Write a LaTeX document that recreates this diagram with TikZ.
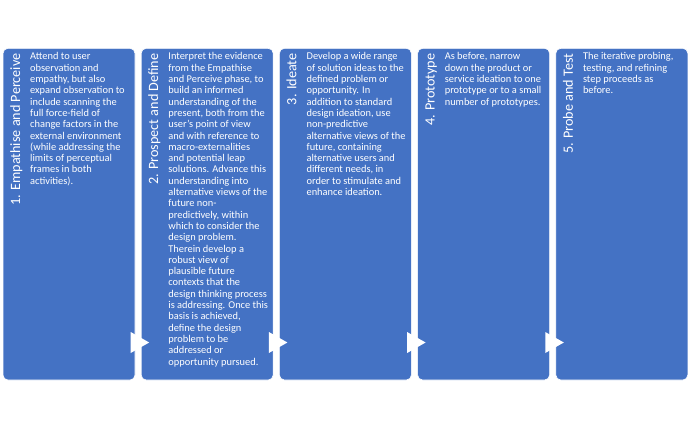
\documentclass[tikz,border=0pt]{standalone}
\usepackage{fontspec}
\setmainfont{Carlito}
\definecolor{boxblue}{HTML}{4472C4}
\begin{document}
\begin{tikzpicture}[x=1pt,y=-1pt,
  stagebox/.style={fill=boxblue,draw=white,line width=0.6pt,rounded corners=5pt},
  stagelabel/.style={rotate=90,anchor=base east,inner sep=0pt,text=white,font=\fontsize{14.2}{16}\selectfont},
  stagetext/.style={anchor=north west,inner sep=0pt,text=white,align=left,font=\fontsize{10.4}{11.3}\selectfont},
  gaparrow/.style={fill=white,draw=none}]
\useasboundingbox (0,0) rectangle (690,429);
\foreach \i/\xl in {1/3,2/141.2,3/279.4,4/417.6,5/555.8}{
  \path[stagebox] (\xl,48.3) rectangle ++(132,331.7);
  \coordinate (b\i) at (\xl,48.3);
}
\node[stagelabel] (l1) at ([shift={(17,5)}]b1) {1. Empathise and Perceive};
\node[stagelabel] (l2) at ([shift={(17,5)}]b2) {2. Prospect and Define};
\node[stagelabel] (l3) at ([shift={(17,5)}]b3) {3. Ideate};
\node[stagelabel] (l4) at ([shift={(17,5)}]b4) {4. Prototype};
\node[stagelabel] (l5) at ([shift={(17,5)}]b5) {5. Probe and Test};
\node[stagetext] (t1) at ([shift={(27,4.2)}]b1) {Attend to user\\observation and\\empathy, but also\\expand observation to\\include scanning the\\full force-field of\\change factors in the\\external environment\\(while addressing the\\limits of perceptual\\frames in both\\activities).};
\node[stagetext] (t2) at ([shift={(27,4.2)}]b2) {Interpret the evidence\\from the Empathise\\and Perceive phase, to\\build an informed\\understanding of the\\present, both from the\\user’s point of view\\and with reference to\\macro-externalities\\and potential leap\\solutions. Advance this\\understanding into\\alternative views of the\\future non-\\predictively, within\\which to consider the\\design problem.\\Therein develop a\\robust view of\\plausible future\\contexts that the\\design thinking process\\is addressing. Once this\\basis is achieved,\\define the design\\problem to be\\addressed or\\opportunity pursued.};
\node[stagetext] (t3) at ([shift={(27,4.2)}]b3) {Develop a wide range\\of solution ideas to the\\defined problem or\\opportunity. In\\addition to standard\\design ideation, use\\non-predictive\\alternative views of the\\future, containing\\alternative users and\\different needs, in\\order to stimulate and\\enhance ideation.};
\node[stagetext] (t4) at ([shift={(27,4.2)}]b4) {As before, narrow\\down the product or\\service ideation to one\\prototype or to a small\\number of prototypes.};
\node[stagetext] (t5) at ([shift={(27,4.2)}]b5) {The iterative probing,\\testing, and refining\\step proceeds as\\before.};
\foreach \i in {2,3,4,5}{
  \path[gaparrow] ([shift={(-10.5,283.7)}]b\i) -- ([shift={(-10.5,304.7)}]b\i) -- ([shift={(8,294.2)}]b\i) -- cycle;
}
\end{tikzpicture}
\end{document}
